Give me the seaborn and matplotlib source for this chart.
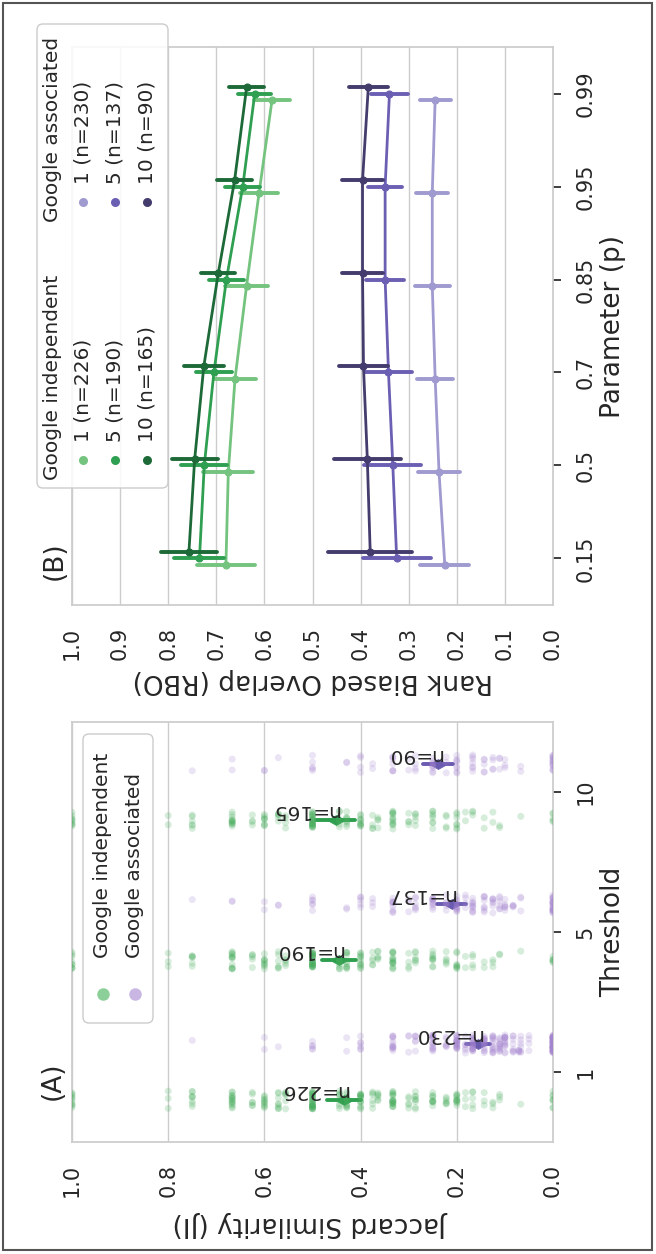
import numpy as np
import pandas as pd
import matplotlib
matplotlib.use("Agg")
import matplotlib.pyplot as plt
from matplotlib.transforms import Affine2D, offset_copy
from matplotlib.patches import FancyBboxPatch, Rectangle
from matplotlib.lines import Line2D
from matplotlib.markers import MarkerStyle
import seaborn as sns

sns.set_theme(style="whitegrid")
plt.rcParams["font.family"] = ["DejaVu Sans"]

# ---------------- data ----------------
groups = ["Google independent", "Google associated"]
thresholds = ["1", "5", "10"]
params = ["0.15", "0.5", "0.7", "0.85", "0.95", "0.99"]
n_independent = [226, 190, 165]
n_associated = [230, 137, 90]

# Panel A: distinct Jaccard values and how many sites sit at each
ji_levels_ind = [0.0, 0.067, 0.111, 0.125, 0.143, 0.167, 0.182, 0.2, 0.222, 0.25, 0.286, 0.3, 0.333,
                 0.364, 0.375, 0.4, 0.429, 0.444, 0.5, 0.556, 0.571, 0.6, 0.625, 0.667, 0.75, 0.8, 1.0]
ji_counts_ind_t1 = [8, 1, 3, 3, 3, 5, 3, 11, 6, 10, 8, 5, 18, 6, 6, 14, 12, 8, 30, 6, 8, 10, 6, 15, 8, 3, 10]
ji_counts_ind_t5 = [6, 1, 2, 3, 2, 4, 2, 8, 5, 9, 6, 4, 15, 5, 5, 12, 10, 7, 28, 5, 6, 9, 5, 13, 6, 3, 9]
ji_counts_ind_t10 = [5, 1, 2, 2, 2, 3, 2, 7, 4, 8, 5, 4, 13, 4, 4, 10, 8, 6, 25, 4, 5, 8, 4, 12, 6, 2, 9]

ji_levels_assoc = [0.0, 0.05, 0.067, 0.071, 0.083, 0.1, 0.111, 0.125, 0.143, 0.167, 0.182, 0.2, 0.222,
                   0.25, 0.286, 0.3, 0.333, 0.375, 0.4, 0.429, 0.5, 0.571, 0.6, 0.667, 0.75]
ji_counts_assoc_t1 = [53, 4, 6, 4, 8, 14, 12, 14, 14, 18, 6, 19, 6, 14, 6, 3, 12, 0, 6, 2, 5, 1, 2, 0, 1]
ji_counts_assoc_t5 = [23, 0, 3, 0, 4, 6, 6, 7, 8, 10, 4, 10, 5, 10, 6, 3, 9, 3, 5, 2, 6, 2, 2, 2, 1]
ji_counts_assoc_t10 = [15, 0, 2, 0, 0, 3, 3, 4, 5, 7, 0, 8, 3, 8, 4, 2, 7, 2, 4, 2, 5, 1, 2, 2, 1]

# Panel A: mean and CI half-width
ji_mean_ind = [0.435, 0.445, 0.452]
ji_ci_ind = [0.035, 0.036, 0.040]
ji_mean_assoc = [0.155, 0.211, 0.239]
ji_ci_assoc = [0.025, 0.030, 0.031]

# Panel B: RBO mean and CI half-width per threshold, over params
rbo_ind_t1 = [0.680, 0.675, 0.661, 0.637, 0.611, 0.584]
rbo_ind_t5 = [0.735, 0.725, 0.705, 0.679, 0.645, 0.620]
rbo_ind_t10 = [0.757, 0.745, 0.726, 0.696, 0.662, 0.637]
rbo_ind_err_t1 = [0.060, 0.052, 0.043, 0.044, 0.040, 0.037]
rbo_ind_err_t5 = [0.052, 0.048, 0.038, 0.037, 0.036, 0.034]
rbo_ind_err_t10 = [0.058, 0.048, 0.041, 0.035, 0.036, 0.036]

rbo_assoc_t1 = [0.225, 0.237, 0.245, 0.251, 0.251, 0.245]
rbo_assoc_t5 = [0.325, 0.333, 0.342, 0.349, 0.349, 0.340]
rbo_assoc_t10 = [0.380, 0.386, 0.394, 0.396, 0.396, 0.384]
rbo_assoc_err_t1 = [0.051, 0.043, 0.037, 0.036, 0.033, 0.032]
rbo_assoc_err_t5 = [0.071, 0.059, 0.048, 0.039, 0.036, 0.039]
rbo_assoc_err_t10 = [0.087, 0.069, 0.051, 0.042, 0.042, 0.041]

# ---------------- tables ----------------
strip_parts = []
for grp, levels, counts_list in [
    (groups[0], ji_levels_ind, [ji_counts_ind_t1, ji_counts_ind_t5, ji_counts_ind_t10]),
    (groups[1], ji_levels_assoc, [ji_counts_assoc_t1, ji_counts_assoc_t5, ji_counts_assoc_t10]),
]:
    for thr, counts in zip(thresholds, counts_list):
        strip_parts.append(pd.DataFrame({"group": grp, "threshold": thr,
                                         "ji": np.repeat(levels, counts)}))
strip_df = pd.concat(strip_parts, ignore_index=True)

sumA = []
for grp, means, cis in [(groups[0], ji_mean_ind, ji_ci_ind), (groups[1], ji_mean_assoc, ji_ci_assoc)]:
    for thr, m, c in zip(thresholds, means, cis):
        sumA.append({"group": grp, "threshold": thr, "ji": m - c})
        sumA.append({"group": grp, "threshold": thr, "ji": m + c})
sumA_df = pd.DataFrame(sumA)

sumB = []
for grp, series in [
    (groups[0], [(rbo_ind_t1, rbo_ind_err_t1), (rbo_ind_t5, rbo_ind_err_t5), (rbo_ind_t10, rbo_ind_err_t10)]),
    (groups[1], [(rbo_assoc_t1, rbo_assoc_err_t1), (rbo_assoc_t5, rbo_assoc_err_t5), (rbo_assoc_t10, rbo_assoc_err_t10)]),
]:
    for thr, (means, errs) in zip(thresholds, series):
        for p, m, e in zip(params, means, errs):
            sumB.append({"group": grp, "threshold": thr, "p": p, "rbo": m - e})
            sumB.append({"group": grp, "threshold": thr, "p": p, "rbo": m + e})
sumB_df = pd.DataFrame(sumB)

# ---------------- figure (drawn in portrait, rotated layout) ----------------
W, H = 656, 1254
fig = plt.figure(figsize=(W / 100, H / 100), dpi=100)
T = Affine2D().scale(1, -1).translate(0, H)   # page pixels, y downward


def rect(x0, x1, y0, y1):
    return [x0 / W, 1 - y1 / H, (x1 - x0) / W, (y1 - y0) / H]


TICK_FS = 15
LABEL_FS = 19
LEG_FS = 14.5
TXT = ".15"

strip_colors = ["#47ad5c", "#a584d0"]
point_colors = ["#2e9e4f", "#6a5bb0"]
greens = ["#74c37f", "#2f9f52", "#1d6a38"]
purples = ["#9f9acf", "#6b5fb3", "#433c6d"]

# ---- Panel B ----
axB = fig.add_axes(rect(72, 553, 47, 605))
for grp, pal in [(groups[0], greens), (groups[1], purples)]:
    sns.pointplot(data=sumB_df[sumB_df["group"] == grp], x="rbo", y="p", hue="threshold",
                  order=params, hue_order=thresholds, palette=pal, dodge=0.13,
                  estimator="mean", errorbar=("pi", 100), markers="o", markersize=5,
                  markeredgewidth=0.8, linewidth=2.0, err_kws={"linewidth": 2.8},
                  legend=False, ax=axB, orient="h")
axB.set_xlim(1, 0)
axB.set_ylim(-0.5, len(params) - 0.5)
xt = np.round(np.arange(0, 1.01, 0.1), 1)
axB.set_xticks(xt)
axB.set_xticklabels([f"{v:.1f}" for v in xt])
axB.yaxis.tick_right()
axB.yaxis.set_label_position("right")
axB.tick_params(axis="x", labelrotation=90, labelsize=TICK_FS, pad=10, colors=TXT)
axB.tick_params(axis="y", labelrotation=90, labelsize=TICK_FS, pad=10, colors=TXT)
for lab in axB.get_yticklabels():
    lab.set_va("center")
axB.set_xlabel("Rank Biased Overlap (RBO)", rotation=180, fontsize=LABEL_FS, color=TXT, va="center")
axB.xaxis.set_label_coords(0.5, -(681 - 605) / 558)
axB.set_ylabel("Parameter (p)", fontsize=LABEL_FS, color=TXT, va="center")
axB.yaxis.set_label_coords((613 - 72) / 481, 0.5)
axB.grid(False, axis="y")

# ---- Panel A ----
axA = fig.add_axes(rect(72, 553, 722, 1142))
np.random.seed(7)
sns.stripplot(data=strip_df, x="ji", y="threshold", hue="group", order=thresholds,
              hue_order=groups, palette=strip_colors, dodge=True, jitter=0.13, size=5,
              alpha=0.22, linewidth=0, legend=False, ax=axA, orient="h")
flat_diamond = MarkerStyle("d", transform=Affine2D().rotate_deg(90))
sns.pointplot(data=sumA_df, x="ji", y="threshold", hue="group", order=thresholds,
              hue_order=groups, palette=point_colors, dodge=0.4, estimator="mean",
              errorbar=("pi", 100), markers=flat_diamond, linestyles="none", markersize=9,
              markeredgewidth=0.5, err_kws={"linewidth": 2.8}, legend=False, ax=axA, orient="h")
axA.set_xlim(1, 0)
axA.set_ylim(-0.5, len(thresholds) - 0.5)
xa = np.round(np.arange(0, 1.01, 0.2), 1)
axA.set_xticks(xa)
axA.set_xticklabels([f"{v:.1f}" for v in xa])
axA.yaxis.tick_right()
axA.yaxis.set_label_position("right")
axA.tick_params(axis="x", labelrotation=90, labelsize=TICK_FS, pad=10, colors=TXT)
axA.tick_params(axis="y", labelrotation=90, labelsize=TICK_FS, pad=10, colors=TXT)
for lab in axA.get_yticklabels():
    lab.set_va("center")
axA.set_xlabel("Jaccard Similarity (JI)", rotation=180, fontsize=LABEL_FS, color=TXT, va="center")
axA.xaxis.set_label_coords(0.5, -(1224 - 1142) / 420)
axA.set_ylabel("Threshold", fontsize=LABEL_FS, color=TXT, va="center")
axA.yaxis.set_label_coords((613 - 72) / 481, 0.5)
axA.grid(False, axis="y")

# n= annotations
ann_tr = offset_copy(axA.transData, fig=fig, x=4, y=0, units="dots")
for k, (means, ns) in enumerate([(ji_mean_ind, n_independent), (ji_mean_assoc, n_associated)]):
    off = -0.2 if k == 0 else 0.2
    for i, (m, n) in enumerate(zip(means, ns)):
        axA.text(m, i + off, f"n={n}", rotation=180, ha="right", va="bottom",
                 fontsize=LEG_FS, color=TXT, transform=ann_tr, zorder=10)

# ---- panel tags ----
fig.text(53, 1081, "(A)", transform=T, rotation=90, ha="center", va="center", fontsize=LABEL_FS, color=TXT)
fig.text(55, 561, "(B)", transform=T, rotation=90, ha="center", va="center", fontsize=LABEL_FS, color=TXT)


# ---- legends (rotated, drawn by hand) ----
def legend_box(x0, y0, x1, y1):
    p = FancyBboxPatch((x0, y0), x1 - x0, y1 - y0, boxstyle="round,pad=0,rounding_size=6",
                       transform=T, facecolor=(1, 1, 1, 0.85), edgecolor="0.8", linewidth=1.0,
                       zorder=20)
    fig.add_artist(p)


def legend_marker(x, y, color, ms):
    fig.add_artist(Line2D([x], [y], transform=T, marker="o", markersize=ms, color=color,
                          linestyle="none", markeredgewidth=0, zorder=21))


def legend_text(x, y, s):
    fig.text(x, y, s, transform=T, rotation=90, ha="center", va="bottom", fontsize=LEG_FS,
             color=TXT, zorder=22)


# Panel B legend
legend_box(37, 24, 168, 488)
legend_text(53, 480, groups[0])
legend_text(53, 222, groups[1])
rows_x = [83, 115, 147]
for x, thr, n, c in zip(rows_x, thresholds, n_independent, greens):
    legend_marker(x, 460, c, 6.5)
    legend_text(x, 442, f"{thr} (n={n})")
for x, thr, n, c in zip(rows_x, thresholds, n_associated, purples):
    legend_marker(x, 202, c, 6.5)
    legend_text(x, 184, f"{thr} (n={n})")

# Panel A legend
legend_box(83, 734, 153, 1023)
for x, grp, c in zip([103, 135], groups, ["#8ccf98", "#c9b6e2"]):
    legend_marker(x, 994, c, 9)
    legend_text(x, 958, grp)

# outer frame
fig.add_artist(Rectangle((3, 3), W - 7, H - 7, transform=T, fill=False, edgecolor="#555555",
                         linewidth=1.5, zorder=30))

fig.savefig("out.png", dpi=100)
